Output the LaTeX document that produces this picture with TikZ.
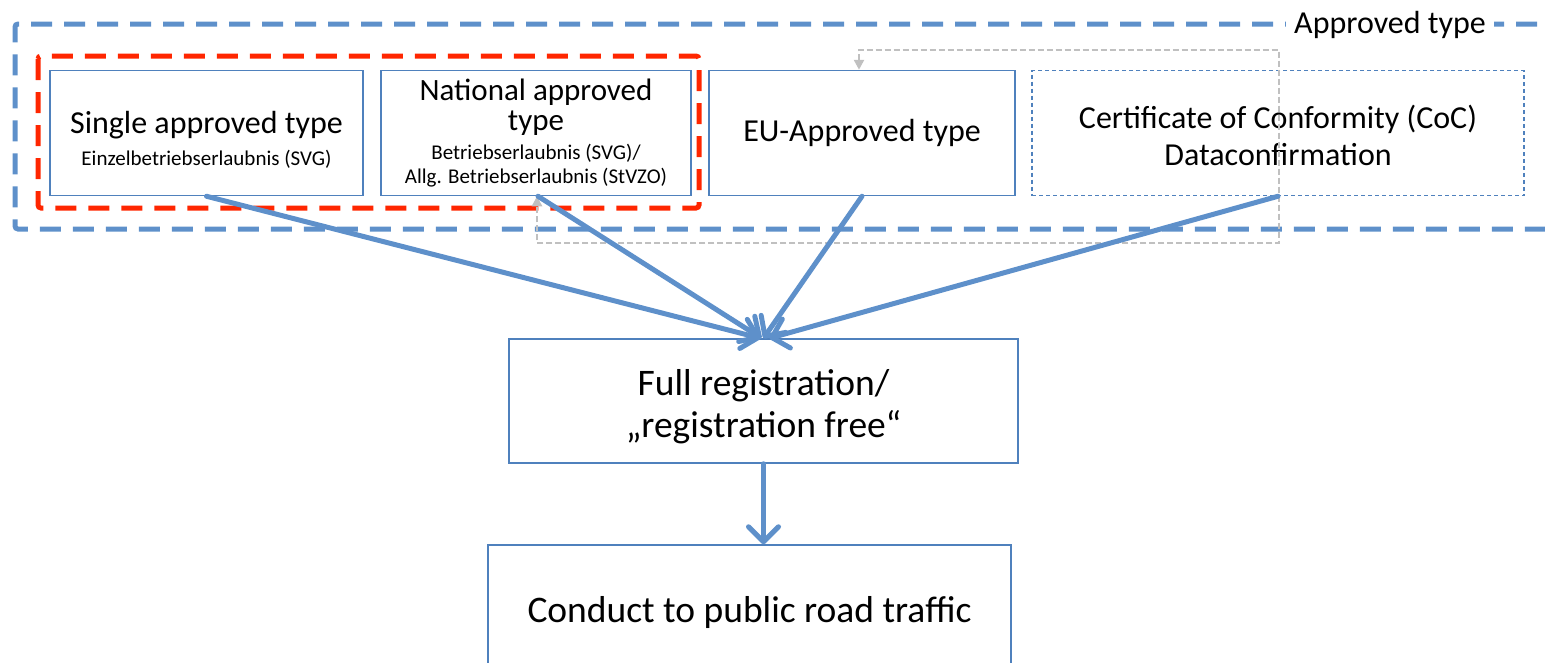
\documentclass[tikz,border=0pt]{standalone}
\usepackage{fontspec}
\setmainfont{Carlito}
\usepackage{tikz}
\usetikzlibrary{calc}
\usetikzlibrary{arrows.meta}
\definecolor{boxblue}{RGB}{79,129,189}
\definecolor{flowblue}{RGB}{94,144,202}
\definecolor{redline}{RGB}{255,38,0}
\definecolor{greyline}{RGB}{192,192,192}
\tikzset{
    box/.style={draw=boxblue, line width=1.5pt, minimum height=125pt, align=center, font=\fontsize{32}{35}\selectfont},
    flow/.style={draw=flowblue, line width=5pt, line cap=round, -{Straight Barb[round, length=15pt, width=30pt]}},
    groupline/.style={line width=5pt, dash pattern=on 21pt off 12pt, rounded corners=3pt}
}
\newcommand{\smalltxt}{\fontsize{21}{27}\selectfont}

\begin{document}
\begin{tikzpicture}[x=1pt,y=-1pt]
\useasboundingbox (0,0) rectangle (1545,662);
% groups
\draw[groupline, draw=flowblue] (1570,24) -- (15,24) -- (15,229) -- (1570,229);
\node[fill=white, inner xsep=8pt, font=\fontsize{32}{35}\selectfont] (approved) at (1390,25) {Approved type};
\draw[groupline, draw=redline] (38,56) rectangle (699,208);
% boxes
\node[box, minimum width=313pt, font=\fontsize{32}{32}\selectfont] (single) at (206.5,133) {\rule{0pt}{36pt}Single approved type\\{\smalltxt Einzelbetriebserlaubnis (SVG)}};
\node[box, minimum width=310pt, font=\fontsize{31}{29.5}\selectfont] (national) at (536,133) {National approved\\type\\{\smalltxt Betriebserlaubnis (SVG)/}\\[-6pt]{\smalltxt Allg. Betriebserlaubnis (StVZO)}};
\node[box, minimum width=306pt] (eu) at (862,133) {EU-Approved type};
\node[box, minimum width=492pt, dash pattern=on 4pt off 3pt, font=\fontsize{32}{37}\selectfont] (coc) at (1278,133) {\rule{0pt}{28pt}Certificate of Conformity (CoC)\\Dataconfirmation};
\node[box, minimum width=509pt, minimum height=124pt, font=\fontsize{37.5}{42}\selectfont] (full) at (763.5,401) {\rule{0pt}{38pt}Full registration/\\„registration free“};
\node[box, minimum width=523pt, minimum height=134pt, font=\fontsize{37.5}{42}\selectfont] (conduct) at (749.5,612) {Conduct to public road traffic};
% grey link
\draw[greyline, line width=2.5pt, dash pattern=on 6pt off 3pt, {Triangle[length=10pt,width=10pt]}-{Triangle[length=10pt,width=10pt]}]
    ($(eu.north)+(-3,0)$) |- (1279,50) |- (537,243) -- ($(national.south)+(1,0)$);
% flows
\draw[flow] (single.south) -- ($(full.north)+(-3,0)$);
\draw[flow] ($(national.south)+(2,0)$) -- ($(full.north)+(-2,0)$);
\draw[flow] (eu.south) -- ($(full.north)+(0,0)$);
\draw[flow] (coc.south) -- ($(full.north)+(6,0)$);
\draw[flow] (full.south) -- (full.south |- conduct.north);
\end{tikzpicture}
\end{document}
